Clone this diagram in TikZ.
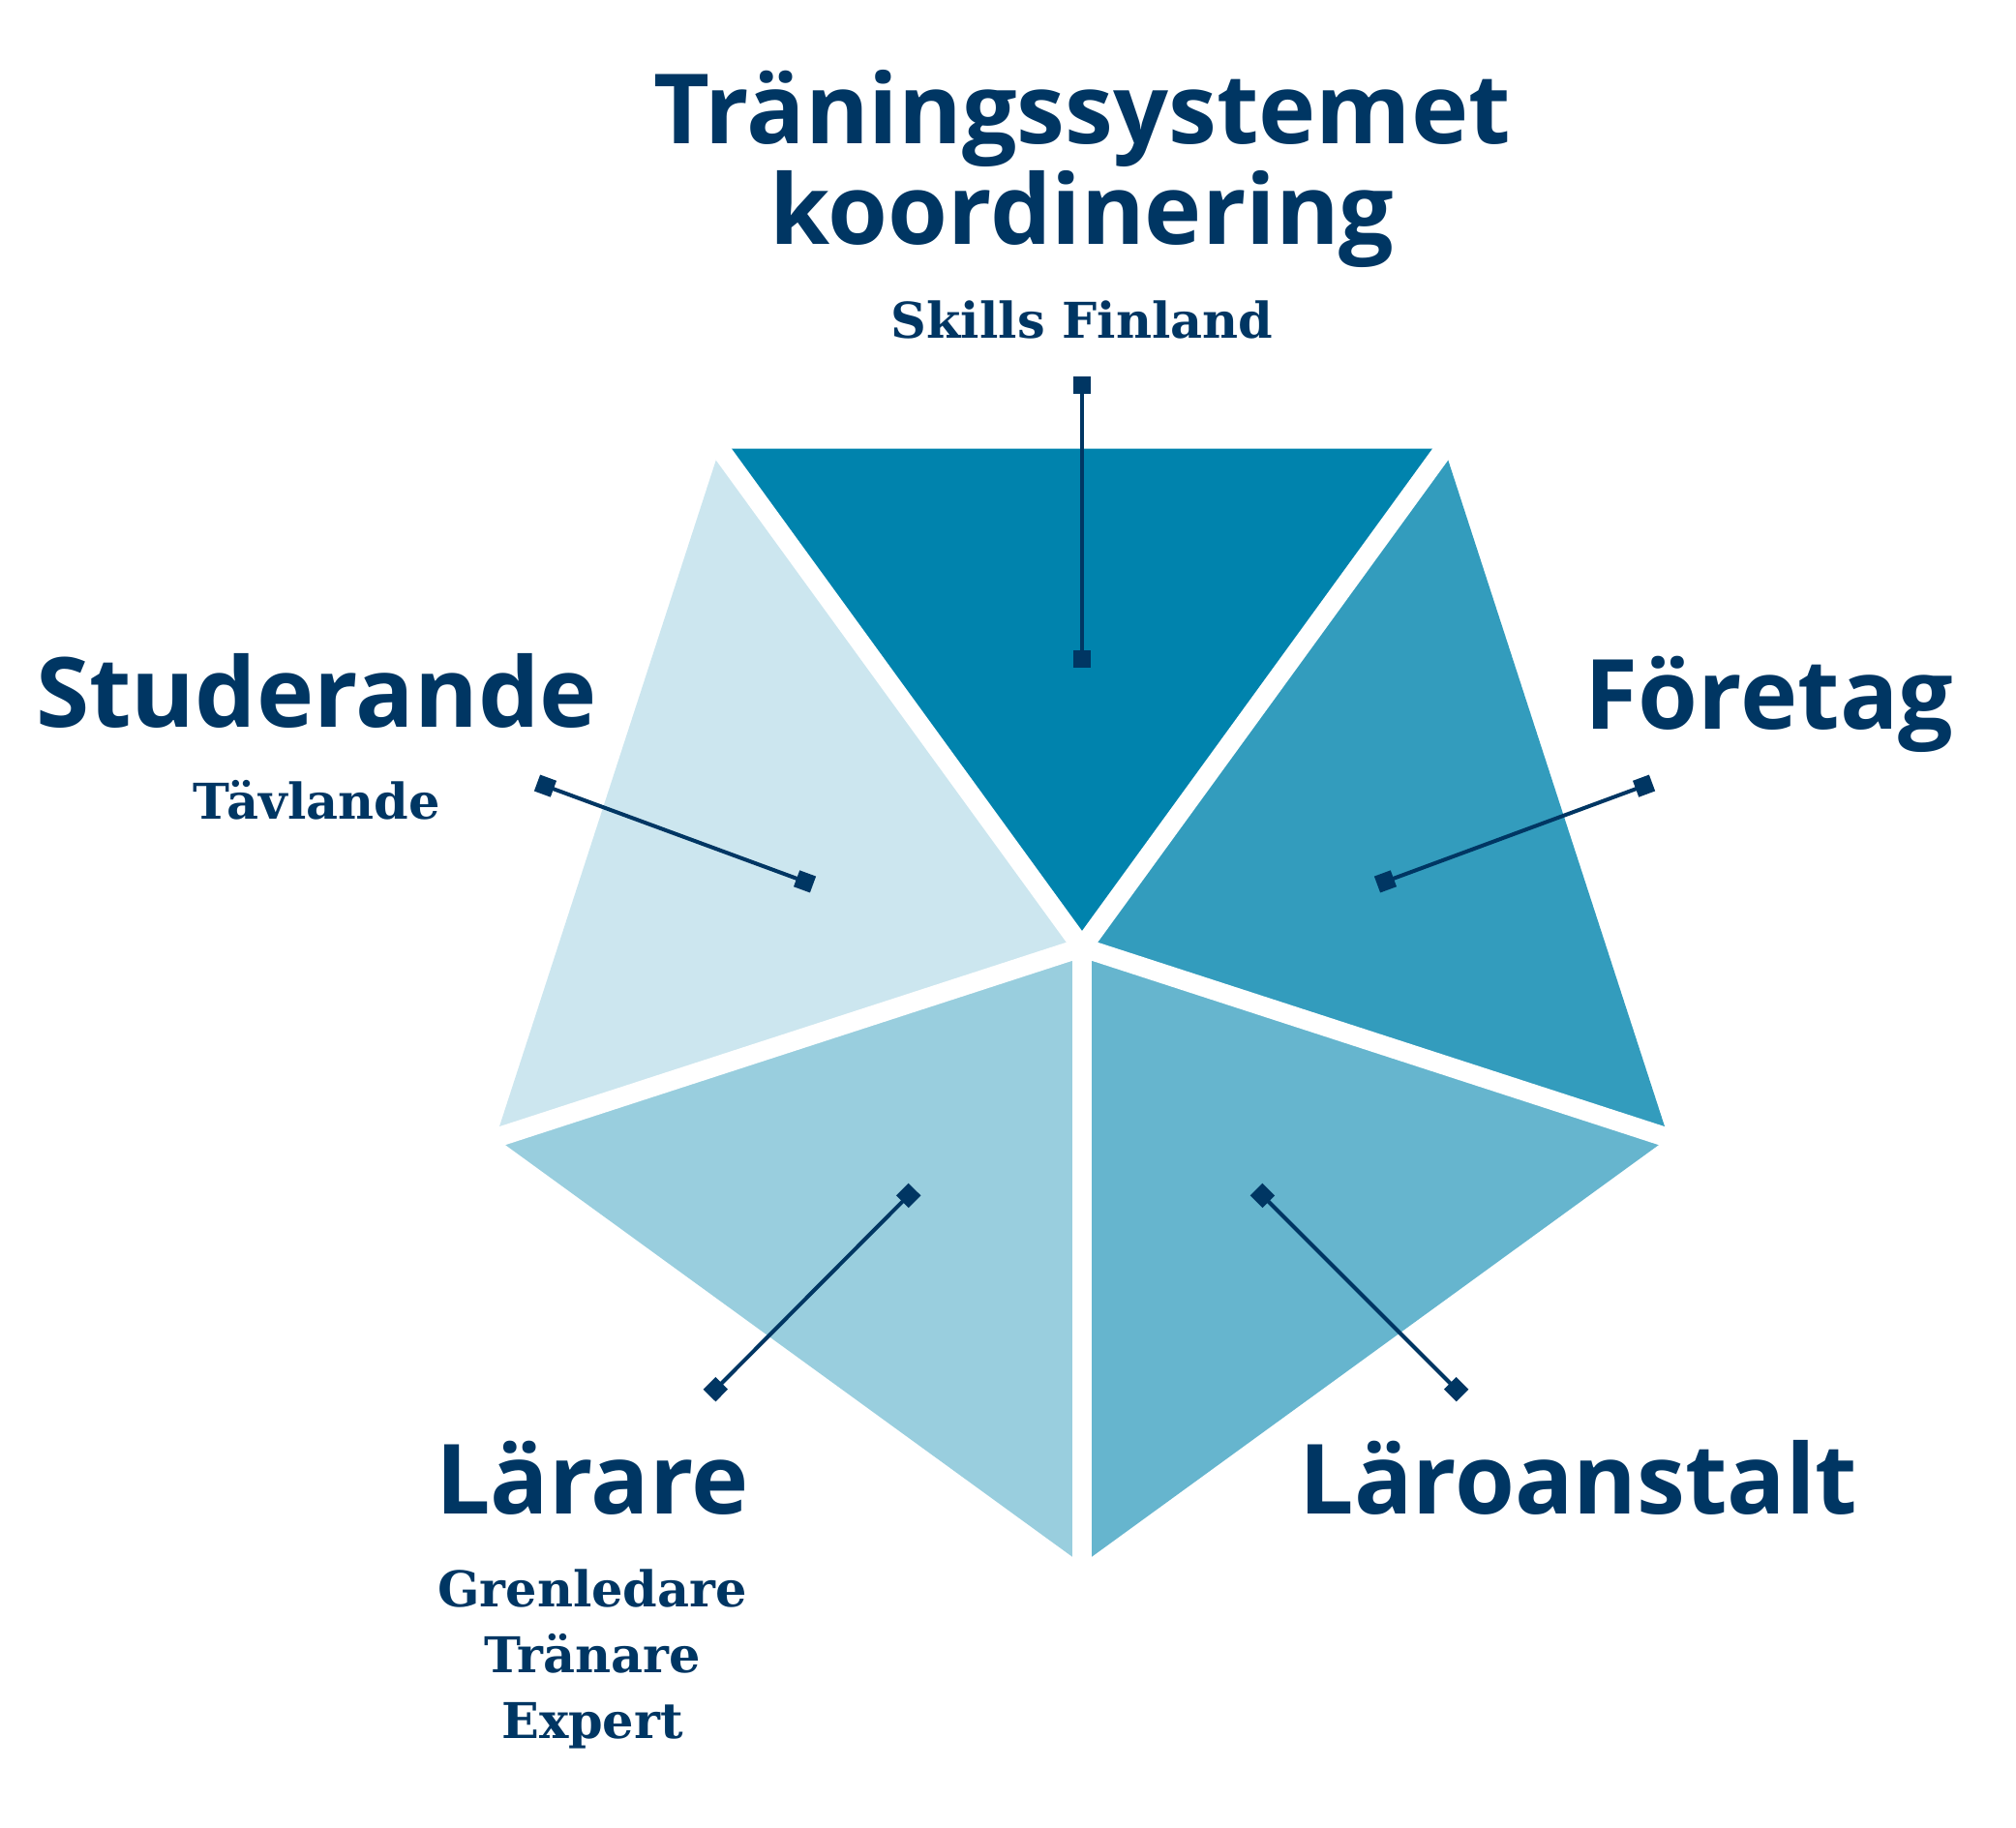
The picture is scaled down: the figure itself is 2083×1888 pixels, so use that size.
\documentclass[tikz,border=0pt]{standalone}
\usepackage{fontspec}
\setmainfont{DejaVu Serif}
\newfontfamily\headfont{Open Sans}
\usetikzlibrary{calc,arrows.meta}
\definecolor{skblue}{HTML}{0083AD}
\definecolor{sknavy}{HTML}{003663}

\begin{document}
\begin{tikzpicture}[x=0.1mm,y=-0.1mm,
  head/.style={text=sknavy,font=\headfont\bfseries\fontsize{28.5}{26}\selectfont,align=center,inner sep=0pt,anchor=base},
  sub/.style={text=sknavy,font=\bfseries\fontsize{14.5}{19.3}\selectfont,align=center,inner sep=0pt,anchor=base},
  link/.style={draw=sknavy,line width=0.4mm,{Square[length=1.8mm,width=1.8mm]}-{Square[length=1.8mm,width=1.8mm]}},
  gap/.style={white,line width=2mm,line cap=round}]
\useasboundingbox (0,0) rectangle (2083,1888);
\coordinate (c) at (1118,979);
\foreach \a [count=\i] in {306,234,162,90,18}
  \coordinate (v\i) at ($(c)+(\a:637)$);
{\foreach \p/\q/\s in {2/1/100,2/3/20,3/4/40,4/5/60,5/1/80}
  \fill[skblue!\s] (c) -- (v\p) -- (v\q) -- cycle;}
{\foreach \i in {1,...,5} \draw[gap] (c) -- (v\i);}

\node[head] (title) at (1118,252) {Träningssystemet\\koordinering};
\node[sub] (skills) at (1118,349) {Skills Finland};
\node[head] (stud) at (327,751) {Studerande};
\node[sub] (tavl) at (327,846) {Tävlande};
\node[head] (foret) at (1828,753) {Företag};
\node[head] (larare) at (612,1564) {Lärare};
\node[sub] (lsub) at (612,1796) {Grenledare\\Tränare\\Expert};
\node[head] (laroan) at (1631,1564) {Läroanstalt};

\coordinate (t1) at (1118,389);  \coordinate (t2) at (1118,690);
\coordinate (s1) at (555,809);   \coordinate (s2) at (840,914);
\coordinate (f1) at (1707,809);  \coordinate (f2) at (1423,914);
\coordinate (l1) at (733,1442);  \coordinate (l2) at (945,1229);
\coordinate (a1) at (1511,1442); \coordinate (a2) at (1298,1229);
{\foreach \n in {t,s,f,l,a} \draw[link] (\n1) -- (\n2);}
\end{tikzpicture}
\end{document}
